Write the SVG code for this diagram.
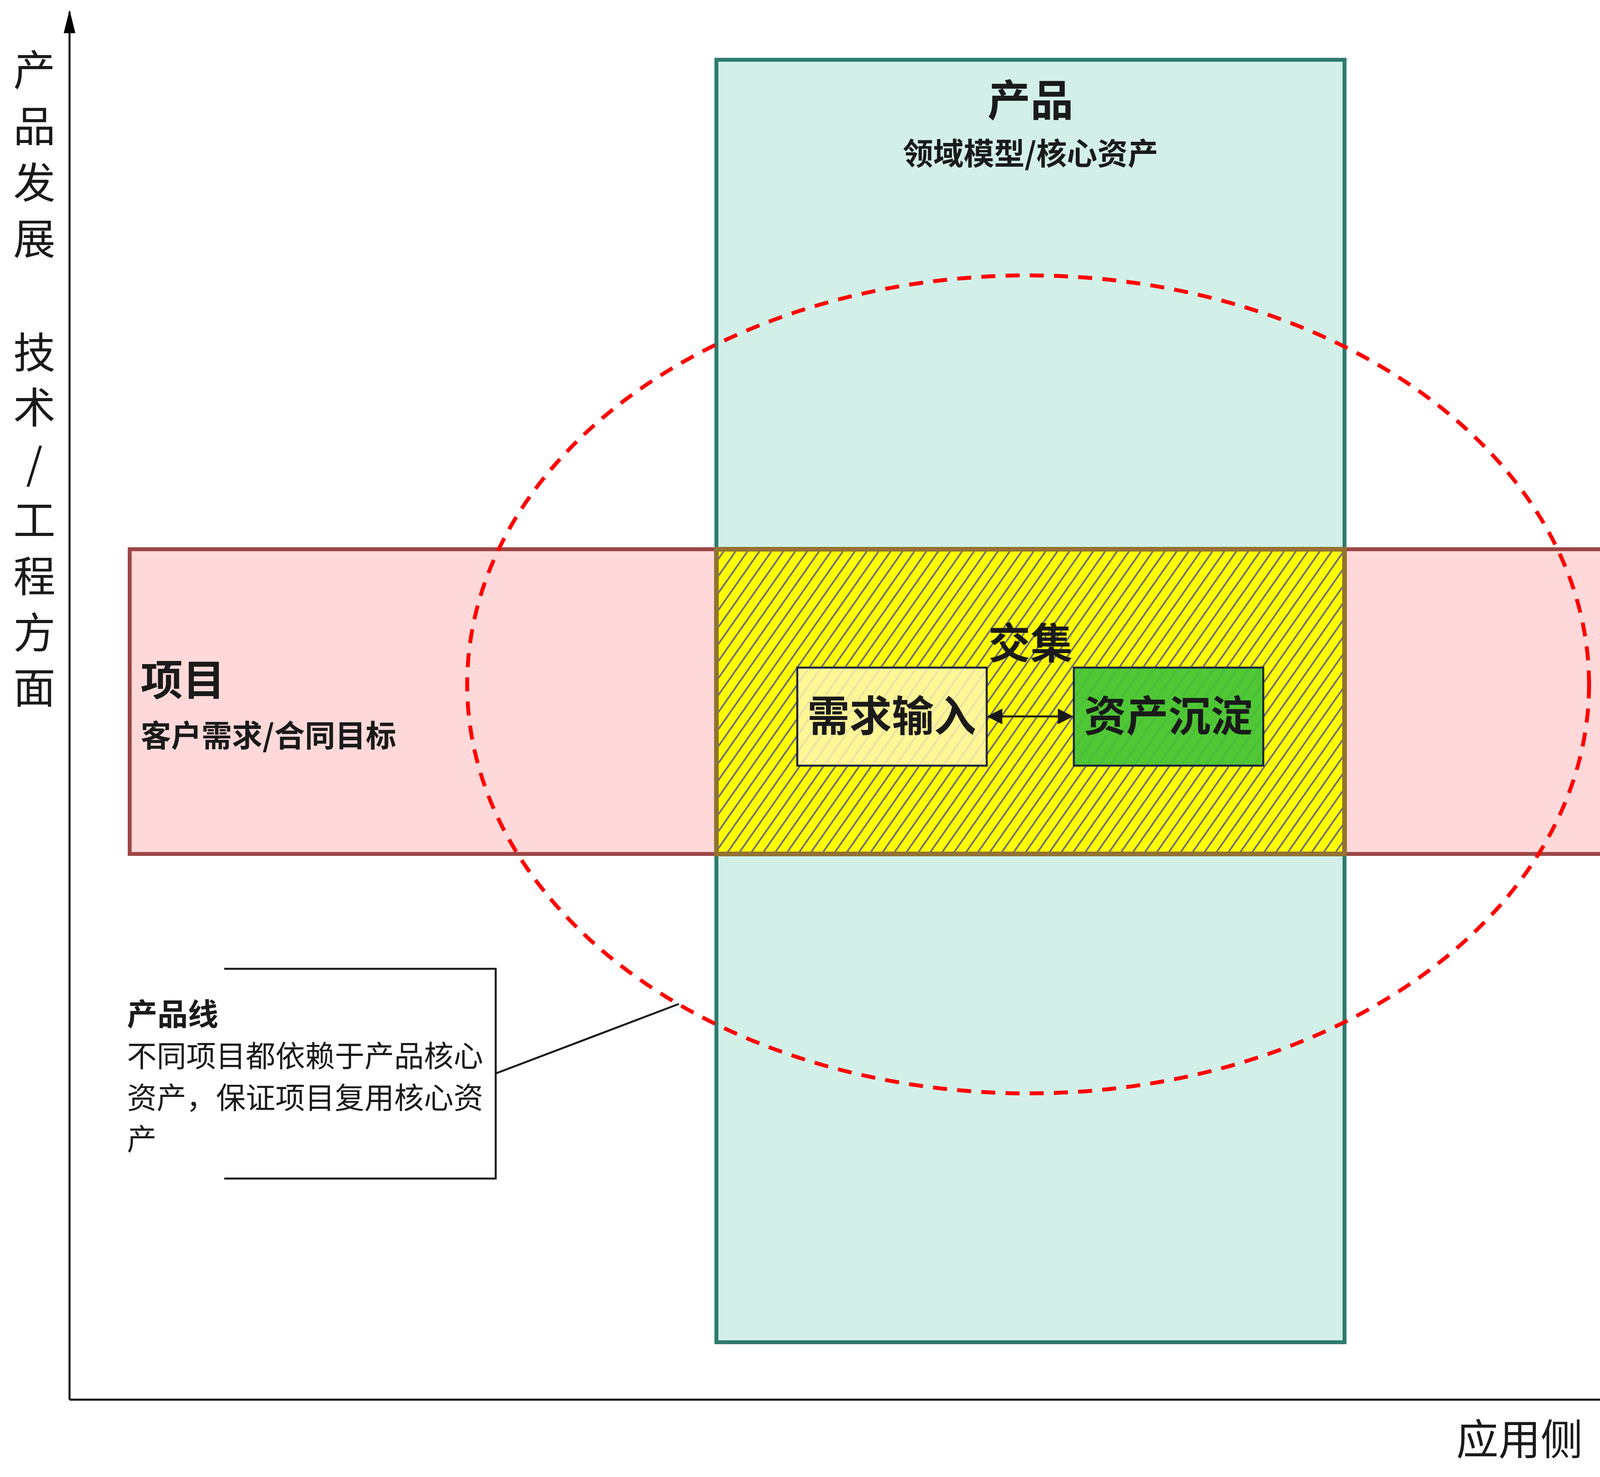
<svg xmlns="http://www.w3.org/2000/svg" width="4906" height="3781" viewBox="0 0 4906 3781">
<style>
text{font-family:"Noto Sans CJK SC","Liberation Sans",sans-serif;fill:#1a1a1a}
.b{font-weight:bold}
.ax{font-size:108px}
</style>
<defs>
<pattern id="hatch" width="25" height="25" patternUnits="userSpaceOnUse" patternTransform="rotate(35)">
<line x1="2" y1="0" x2="2" y2="25" stroke="#6a6a80" stroke-width="4.5"/>
</pattern>
<marker id="ah" markerWidth="8" markerHeight="8" refX="7" refY="4" orient="auto-start-reverse" markerUnits="strokeWidth"><path d="M0,0L8,4L0,8z" fill="#1a1a1a"/></marker>
<marker id="axh" markerWidth="12" markerHeight="8" refX="11" refY="4" orient="auto" markerUnits="strokeWidth"><path d="M0,1L12,4L0,7z" fill="#000"/></marker>
</defs>
<rect width="4906" height="3781" fill="#fff"/>
<g id="product">
<rect x="1834" y="153" width="1608" height="3283" fill="#d2f0e8" stroke="#2e7b6e" stroke-width="10"/>
<text x="2638" y="297" text-anchor="middle" font-size="110" class="b">产品</text>
<text x="2638" y="422" text-anchor="middle" font-size="78" class="b">领域模型/核心资产</text>
</g>
<g id="project">
<rect x="332" y="1406" width="4249" height="780" fill="#ffd9d9" stroke="#9c4646" stroke-width="10"/>
<text x="360" y="1780" font-size="108" class="b">项目</text>
<text x="360" y="1912" font-size="78" class="b">客户需求/合同目标</text>
</g>
<g id="intersection">
<rect x="1834" y="1406" width="1608" height="780" fill="#ffff00"/>
<rect x="1834" y="1406" width="1608" height="780" fill="url(#hatch)" stroke="#937232" stroke-width="12"/>
<text x="2638" y="1686" text-anchor="middle" font-size="108" class="b">交集</text>
</g>
<g id="demand">
<rect x="2041" y="1709" width="485" height="251" fill="#fff5b0" fill-opacity="0.85" stroke="#1a1f3a" stroke-width="5"/>
<text x="2283" y="1872" text-anchor="middle" font-size="108" class="b">需求输入</text>
</g>
<g id="asset">
<rect x="2749" y="1709" width="485" height="251" fill="#47c437" fill-opacity="0.95" stroke="#1a1f3a" stroke-width="5"/>
<text x="2991" y="1872" text-anchor="middle" font-size="108" class="b">资产沉淀</text>
</g>
<g id="productline">
<text x="325" y="2625" font-size="78" class="b">产品线</text>
<text x="325" y="2731" font-size="76">不同项目都依赖于产品核心</text>
<text x="325" y="2838" font-size="76">资产，保证项目复用核心资</text>
<text x="325" y="2944" font-size="76">产</text>
</g>
<g id="scope">
<ellipse cx="2632" cy="1752" rx="1436" ry="1047" fill="none" stroke="#ff0000" stroke-width="10" stroke-dasharray="36,26"/>
</g>
<g id="connectors" fill="none" stroke="#1a1a1a">
<line x1="2531" y1="1834" x2="2743" y2="1834" stroke-width="5" marker-start="url(#ah)" marker-end="url(#ah)"/>
<path d="M574,2480H1269V3017H574" stroke-width="5"/>
<line x1="1269" y1="2748" x2="1738" y2="2570" stroke-width="5"/>
<line x1="178" y1="3583" x2="178" y2="30" stroke="#000" stroke-width="5" marker-end="url(#axh)"/>
<line x1="178" y1="3583" x2="4790" y2="3583" stroke="#000" stroke-width="5" marker-end="url(#axh)"/>
</g>
<g id="axis-labels" class="ax" text-anchor="middle">
<text x="88" y="219">产</text>
<text x="88" y="363">品</text>
<text x="88" y="507">发</text>
<text x="88" y="651">展</text>
<text x="88" y="942">技</text>
<text x="88" y="1083">术</text>
<text x="88" y="1227">/</text>
<text x="88" y="1371">工</text>
<text x="88" y="1515">程</text>
<text x="88" y="1659">方</text>
<text x="88" y="1800">面</text>
<text x="4700" y="3724" text-anchor="end">应用侧（项目展开）</text>
</g>
</svg>
